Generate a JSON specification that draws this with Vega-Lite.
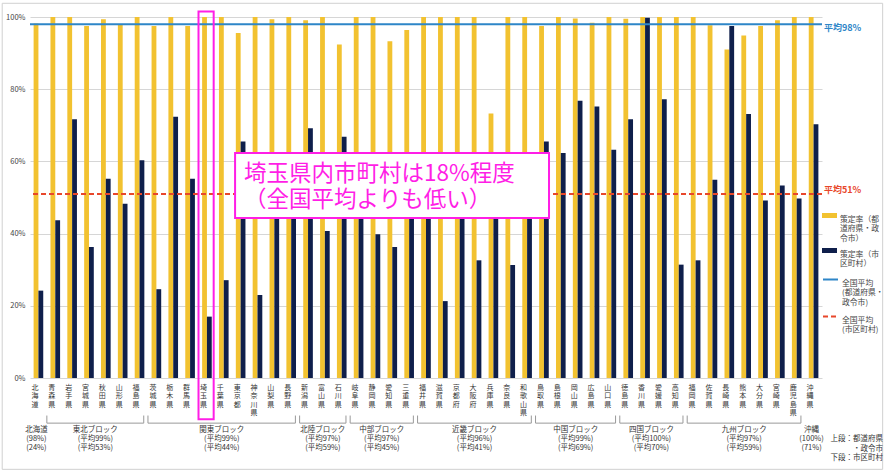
{
  "$schema": "https://vega.github.io/schema/vega-lite/v6.json",
  "width": 792,
  "height": 361,
  "autosize": {"type": "none"},
  "padding": {"left": 30, "top": 17, "right": 63, "bottom": 98},
  "background": "white",
  "config": {
    "font": "Noto Sans CJK JP",
    "view": {"stroke": null},
    "text": {"font": "Noto Sans CJK JP"}
  },
  "datasets": {
    "rates": [
      {"pref": "北海道", "pc": 98.2, "mu": 24.2},
      {"pref": "青森県", "pc": 100, "mu": 43.7},
      {"pref": "岩手県", "pc": 100, "mu": 71.7},
      {"pref": "宮城県", "pc": 97.5, "mu": 36.3},
      {"pref": "秋田県", "pc": 99.4, "mu": 55.2},
      {"pref": "山形県", "pc": 97.9, "mu": 48.3},
      {"pref": "福島県", "pc": 100, "mu": 60.3},
      {"pref": "茨城県", "pc": 97.5, "mu": 24.6},
      {"pref": "栃木県", "pc": 100, "mu": 72.4},
      {"pref": "群馬県", "pc": 97.5, "mu": 55.2},
      {"pref": "埼玉県", "pc": 100, "mu": 17.0},
      {"pref": "千葉県", "pc": 100, "mu": 27.1},
      {"pref": "東京都", "pc": 95.6, "mu": 65.5},
      {"pref": "神奈川県", "pc": 100, "mu": 23.0},
      {"pref": "山梨県", "pc": 99.4, "mu": 58},
      {"pref": "長野県", "pc": 100, "mu": 53},
      {"pref": "新潟県", "pc": 99.1, "mu": 69.2},
      {"pref": "富山県", "pc": 100, "mu": 40.7},
      {"pref": "石川県", "pc": 92.4, "mu": 66.8},
      {"pref": "岐阜県", "pc": 100, "mu": 49},
      {"pref": "静岡県", "pc": 100, "mu": 39.8},
      {"pref": "愛知県", "pc": 93.3, "mu": 36.3},
      {"pref": "三重県", "pc": 96.4, "mu": 55},
      {"pref": "福井県", "pc": 100, "mu": 47},
      {"pref": "滋賀県", "pc": 100, "mu": 21.3},
      {"pref": "京都府", "pc": 100, "mu": 60},
      {"pref": "大阪府", "pc": 100, "mu": 32.6},
      {"pref": "兵庫県", "pc": 73.3, "mu": 52},
      {"pref": "奈良県", "pc": 100, "mu": 31.3},
      {"pref": "和歌山県", "pc": 100, "mu": 46},
      {"pref": "鳥取県", "pc": 97.5, "mu": 65.5},
      {"pref": "島根県", "pc": 100, "mu": 62.3},
      {"pref": "岡山県", "pc": 99.6, "mu": 76.8},
      {"pref": "広島県", "pc": 98.4, "mu": 75.2},
      {"pref": "山口県", "pc": 100, "mu": 63.2},
      {"pref": "徳島県", "pc": 99.5, "mu": 71.7},
      {"pref": "香川県", "pc": 100, "mu": 99.8},
      {"pref": "愛媛県", "pc": 100, "mu": 77.2},
      {"pref": "高知県", "pc": 100, "mu": 31.4},
      {"pref": "福岡県", "pc": 100, "mu": 32.6},
      {"pref": "佐賀県", "pc": 97.7, "mu": 54.9},
      {"pref": "長崎県", "pc": 91.0, "mu": 97.5},
      {"pref": "熊本県", "pc": 94.9, "mu": 73.1},
      {"pref": "大分県", "pc": 97.5, "mu": 49.2},
      {"pref": "宮崎県", "pc": 99.1, "mu": 53.3},
      {"pref": "鹿児島県", "pc": 100, "mu": 49.7},
      {"pref": "沖縄県", "pc": 100, "mu": 70.3}
    ],
    "averages": [
      {"series": "全国平均（都道府県・政令市）", "value": 98, "label": "平均98%"},
      {"series": "全国平均（市区町村）", "value": 51, "label": "平均51%"}
    ],
    "groups": [
      {"name": "北海道", "first": "北海道", "last": "北海道", "mid": "北海道", "n": 1, "upper": "(98%)", "lower": "(24%)"},
      {"name": "東北ブロック", "first": "青森県", "last": "福島県", "mid": "宮城県", "n": 6, "upper": "(平均99%)", "lower": "(平均53%)"},
      {"name": "関東ブロック", "first": "茨城県", "last": "長野県", "mid": "千葉県", "n": 9, "upper": "(平均99%)", "lower": "(平均44%)"},
      {"name": "北陸ブロック", "first": "新潟県", "last": "石川県", "mid": "富山県", "n": 3, "upper": "(平均97%)", "lower": "(平均59%)"},
      {"name": "中部ブロック", "first": "岐阜県", "last": "三重県", "mid": "静岡県", "n": 4, "upper": "(平均97%)", "lower": "(平均45%)"},
      {"name": "近畿ブロック", "first": "福井県", "last": "和歌山県", "mid": "大阪府", "n": 7, "upper": "(平均96%)", "lower": "(平均41%)"},
      {"name": "中国ブロック", "first": "鳥取県", "last": "山口県", "mid": "岡山県", "n": 5, "upper": "(平均99%)", "lower": "(平均69%)"},
      {"name": "四国ブロック", "first": "徳島県", "last": "高知県", "mid": "香川県", "n": 4, "upper": "(平均100%)", "lower": "(平均70%)"},
      {"name": "九州ブロック", "first": "福岡県", "last": "鹿児島県", "mid": "熊本県", "n": 7, "upper": "(平均97%)", "lower": "(平均59%)"},
      {"name": "沖縄", "first": "沖縄県", "last": "沖縄県", "mid": "沖縄県", "n": 1, "upper": "(100%)", "lower": "(71%)"}
    ]
  },
  "layer": [
    {
      "data": {"values": [{}]},
      "mark": {"type": "rect", "fill": null, "fillOpacity": 0, "stroke": "#d0d0d0", "strokeWidth": 1},
      "encoding": {
        "x": {"datum": "北海道", "bandPosition": -1.65},
        "x2": {"datum": "沖縄県", "bandPosition": 4.6},
        "y": {"datum": 103.8},
        "y2": {"datum": -25.3}
      }
    },
    {
      "data": {"name": "rates"},
      "transform": [
        {"fold": ["pc", "mu"], "as": ["key", "value"]},
        {"calculate": "datum.key == 'pc' ? '策定率（都道府県・政令市）' : '策定率（市区町村）'", "as": "series"}
      ],
      "mark": {"type": "bar"},
      "encoding": {
        "x": {
          "field": "pref", "type": "nominal", "title": null,
          "scale": {
            "domain": ["北海道","青森県","岩手県","宮城県","秋田県","山形県","福島県","茨城県","栃木県","群馬県","埼玉県","千葉県","東京都","神奈川県","山梨県","長野県","新潟県","富山県","石川県","岐阜県","静岡県","愛知県","三重県","福井県","滋賀県","京都府","大阪府","兵庫県","奈良県","和歌山県","鳥取県","島根県","岡山県","広島県","山口県","徳島県","香川県","愛媛県","高知県","福岡県","佐賀県","長崎県","熊本県","大分県","宮崎県","鹿児島県","沖縄県"],
            "paddingInner": 0, "paddingOuter": 0
          },
          "axis": {
            "labelAngle": 0, "labelExpr": "split(datum.label, '')", "labelFontSize": 7,
            "labelColor": "#333", "labelLineHeight": 8.5, "labelBaseline": "top", "labelPadding": 5,
            "ticks": false, "domain": false, "grid": false, "labelOverlap": false
          }
        },
        "xOffset": {
          "field": "key", "type": "nominal",
          "scale": {"domain": ["pc", "mu"], "paddingInner": 0, "paddingOuter": 0.75}
        },
        "y": {
          "field": "value", "type": "quantitative", "title": null, "stack": null,
          "scale": {"domain": [0, 100], "nice": false},
          "axis": {
            "values": [0,10,20,30,40,50,60,70,80,90,100], "labelExpr": "datum.value + '%'",
            "labelFontSize": 7.5, "labelColor": "#444", "labelPadding": 5, "labelOverlap": false,
            "grid": true, "gridColor": "#d6d6d6", "domain": false, "ticks": false
          }
        },
        "color": {
          "field": "series", "type": "nominal",
          "scale": {
            "domain": ["策定率（都道府県・政令市）", "策定率（市区町村）"],
            "range": ["#F2C230", "#0F1F4B"]
          },
          "legend": {
            "orient": "none", "legendX": 792, "legendY": 191, "title": null, "padding": 0,
            "labelFontSize": 7.8, "labelColor": "#444", "labelLimit": 200, "labelOffset": 3,
            "rowPadding": 0, "symbolType": "M-1,-0.33H1V0.33H-1Z", "symbolSize": 225,
            "symbolStrokeWidth": 0, "labelBaseline": "top",
            "labelExpr": "datum.label == '策定率（都道府県・政令市）' ? ['策定率（都','道府県・政','令市）'] : ['策定率（市','区町村）']"
          }
        }
      }
    },
    {
      "data": {"name": "averages"},
      "mark": {"type": "rule", "strokeWidth": 2},
      "encoding": {
        "y": {"field": "value", "type": "quantitative"},
        "stroke": {
          "field": "series", "type": "nominal",
          "scale": {"domain": ["全国平均（都道府県・政令市）", "全国平均（市区町村）"], "range": ["#2E86C8", "#E8472B"]},
          "legend": {
            "orient": "none", "legendX": 792, "legendY": 254, "title": null, "padding": 0,
            "labelFontSize": 7.8, "labelColor": "#444", "labelLimit": 200, "labelOffset": 3,
            "rowPadding": 1, "symbolType": "stroke", "symbolSize": 225, "symbolStrokeWidth": 2,
            "labelBaseline": "top",
            "labelExpr": "datum.label == '全国平均（都道府県・政令市）' ? ['全国平均','(都道府県・','政令市)'] : ['全国平均','(市区町村)']"
          }
        },
        "strokeDash": {
          "field": "series", "type": "nominal",
          "scale": {"domain": ["全国平均（都道府県・政令市）", "全国平均（市区町村）"], "range": [[1, 0], [5, 3]]},
          "legend": {
            "orient": "none", "legendX": 792, "legendY": 254, "title": null, "padding": 0,
            "labelFontSize": 7.8, "labelColor": "#444", "labelLimit": 200, "labelOffset": 3,
            "rowPadding": 1, "symbolType": "stroke", "symbolSize": 225, "symbolStrokeWidth": 2,
            "labelBaseline": "top",
            "labelExpr": "datum.label == '全国平均（都道府県・政令市）' ? ['全国平均','(都道府県・','政令市)'] : ['全国平均','(市区町村)']"
          }
        }
      }
    },
    {
      "data": {"name": "averages"},
      "transform": [{"filter": "datum.series == '全国平均（都道府県・政令市）'"}],
      "mark": {"type": "text", "align": "left", "dx": 2, "dy": 4, "fontSize": 9, "fontWeight": "bold", "baseline": "middle", "color": "#2E86C8"},
      "encoding": {
        "x": {"datum": "沖縄県", "bandPosition": 1},
        "y": {"field": "value", "type": "quantitative"},
        "text": {"field": "label"}
      }
    },
    {
      "data": {"name": "averages"},
      "transform": [{"filter": "datum.series == '全国平均（市区町村）'"}],
      "mark": {"type": "text", "align": "left", "dx": 2, "dy": -4, "fontSize": 9, "fontWeight": "bold", "baseline": "middle", "color": "#E8472B"},
      "encoding": {
        "x": {"datum": "沖縄県", "bandPosition": 1},
        "y": {"field": "value", "type": "quantitative"},
        "text": {"field": "label"}
      }
    },
    {
      "data": {"values": [{}]},
      "mark": {"type": "rect", "fill": "white", "stroke": "#FF1EE6", "strokeWidth": 2},
      "encoding": {
        "x": {"datum": "東京都", "bandPosition": 0.17},
        "x2": {"datum": "鳥取県", "bandPosition": 0.8},
        "y": {"datum": 62.3},
        "y2": {"datum": 44.3}
      }
    },
    {
      "data": {"values": [{"text": ["埼玉県内市町村は18%程度", "（全国平均よりも低い）"]}]},
      "mark": {"type": "text", "align": "left", "baseline": "middle", "fontSize": 22.5, "lineHeight": 26, "color": "#FF1EE6", "dx": 9},
      "encoding": {
        "x": {"datum": "東京都", "bandPosition": 0.17},
        "y": {"datum": 56.4},
        "text": {"field": "text"}
      }
    },
    {
      "data": {"values": [{}]},
      "mark": {"type": "rect", "fill": null, "fillOpacity": 0, "stroke": "#FF1EE6", "strokeWidth": 2},
      "encoding": {
        "x": {"datum": "埼玉県", "bandPosition": 0},
        "x2": {"datum": "埼玉県", "bandPosition": 0.9},
        "y": {"datum": 101.5},
        "y2": {"datum": -11.4}
      }
    },
    {
      "data": {"name": "groups"},
      "transform": [{"filter": "datum.n > 1"}],
      "mark": {"type": "rule", "color": "#999", "strokeWidth": 1},
      "encoding": {
        "x": {"field": "first", "type": "nominal", "bandPosition": 0},
        "x2": {"field": "last", "bandPosition": 0.75},
        "y": {"datum": -12.5}
      }
    },
    {
      "data": {"name": "groups"},
      "transform": [{"filter": "datum.n > 1"}],
      "mark": {"type": "rule", "color": "#999", "strokeWidth": 1},
      "encoding": {
        "x": {"field": "first", "type": "nominal", "bandPosition": 0},
        "y": {"datum": -12.5},
        "y2": {"datum": -10.4}
      }
    },
    {
      "data": {"name": "groups"},
      "transform": [{"filter": "datum.n > 1"}],
      "mark": {"type": "rule", "color": "#999", "strokeWidth": 1},
      "encoding": {
        "x": {"field": "last", "type": "nominal", "bandPosition": 0.75},
        "y": {"datum": -12.5},
        "y2": {"datum": -10.4}
      }
    },
    {
      "data": {"name": "groups"},
      "transform": [
        {"filter": "datum.n % 2 == 1"},
        {"calculate": "[datum.name, datum.upper, '', datum.lower]", "as": "lines"}
      ],
      "mark": {"type": "text", "align": "center", "baseline": "top", "fontSize": 7.5, "lineHeight": 9.3, "color": "#333"},
      "encoding": {
        "x": {"field": "mid", "type": "nominal", "bandPosition": 0.38},
        "y": {"datum": -13.2},
        "text": {"field": "lines"}
      }
    },
    {
      "data": {"name": "groups"},
      "transform": [
        {"filter": "datum.n % 2 == 0"},
        {"calculate": "[datum.name, datum.upper, '', datum.lower]", "as": "lines"}
      ],
      "mark": {"type": "text", "align": "center", "baseline": "top", "fontSize": 7.5, "lineHeight": 9.3, "color": "#333"},
      "encoding": {
        "x": {"field": "mid", "type": "nominal", "bandPosition": 0.875},
        "y": {"datum": -13.2},
        "text": {"field": "lines"}
      }
    },
    {
      "data": {"values": [{"text": ["上段：都道府県", "・政令市", "下段：市区町村"]}]},
      "mark": {"type": "text", "align": "right", "baseline": "top", "fontSize": 7.5, "lineHeight": 9.3, "color": "#333", "dx": 61},
      "encoding": {
        "x": {"datum": "沖縄県", "bandPosition": 1},
        "y": {"datum": -15.9},
        "text": {"field": "text"}
      }
    }
  ]
}
